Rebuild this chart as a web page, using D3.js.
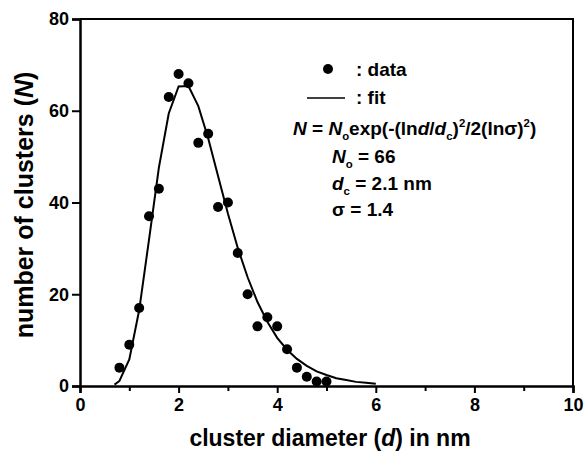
<!DOCTYPE html>
<html lang="en">
<head>
<meta charset="utf-8">
<title>Cluster size distribution</title>
<script src="https://d3js.org/d3.v7.min.js"></script>
<style>
  body { margin: 0; background: #fff; }
  text { font-family: "Liberation Sans", Arial, sans-serif; font-weight: bold; fill: #000; }
</style>
</head>
<body>
<script>
// measured cluster counts
var diam = [0.8, 1.0, 1.2, 1.4, 1.6, 1.8, 2.0, 2.2, 2.4, 2.6, 2.8, 3.0, 3.2, 3.4, 3.6, 3.8, 4.0, 4.2, 4.4, 4.6, 4.8, 5.0];
var count = [4, 9, 17, 37, 43, 63, 68, 66, 53, 55, 39, 40, 29, 20, 13, 15, 13, 8, 4, 2, 1, 1];

// fit curve
var fitD = [0.7, 0.8, 1.0, 1.2, 1.4, 1.6, 1.8, 2.0, 2.2, 2.4, 2.6, 2.8, 3.0, 3.2, 3.4, 3.6, 3.8, 4.0, 4.2, 4.4, 4.6, 4.8, 5.0, 5.2, 5.4, 5.6, 5.8, 6.0];
var fitN = [0.3, 1.1, 5.8, 16.5, 31.9, 47.6, 59.4, 65.3, 65.4, 61.0, 54.0, 45.8, 37.6, 30.1, 23.7, 18.3, 14.0, 10.5, 7.9, 5.9, 4.4, 3.2, 2.4, 1.7, 1.3, 0.9, 0.7, 0.5];

var xTicks = [0, 2, 4, 6, 8, 10];
var xMinor = [1, 3, 5, 7, 9];
var yTicks = [0, 20, 40, 60, 80];

var w = 587, h = 453;
var margin = {top: 19, right: 14, bottom: 67, left: 80};

var svg = d3.select("body").append("svg")
  .attr("width", w)
  .attr("height", h);

var x = d3.scaleLinear().domain([0, 10]).range([margin.left, w - margin.right]);
var y = d3.scaleLinear().domain([0, 80]).range([h - margin.bottom, margin.top]);

// frame (top + right)
svg.append("path")
  .attr("d", "M" + x(0) + "," + y(80) + "H" + x(10) + "V" + y(0))
  .attr("fill", "none")
  .attr("stroke", "#000")
  .attr("stroke-width", 2);

// x axis
svg.append("g")
  .attr("transform", "translate(0," + y(0) + ")")
  .call(d3.axisBottom(x).tickValues(xTicks).tickSize(7).tickPadding(5).tickFormat(d3.format("d")));
svg.append("g")
  .attr("transform", "translate(0," + y(0) + ")")
  .call(d3.axisBottom(x).tickValues(xMinor).tickSize(5).tickFormat(""))
  .call(function(g) { g.select(".domain").remove(); });

// y axis
svg.append("g")
  .attr("transform", "translate(" + x(0) + ",0)")
  .call(d3.axisLeft(y).tickValues(yTicks).tickSize(8).tickPadding(3));

svg.selectAll(".domain").attr("stroke-width", 2.5);
svg.selectAll(".tick line").attr("stroke-width", 2);
svg.selectAll(".tick text")
  .style("font-size", "18px")
  .style("font-weight", "bold")
  .style("font-family", "Liberation Sans, Arial, sans-serif");

// fit line
var line = d3.line()
  .x(function(d) { return x(d); })
  .y(function(d, i) { return y(fitN[i]); });

svg.append("path")
  .datum(fitD)
  .attr("d", line)
  .attr("fill", "none")
  .attr("stroke", "#000")
  .attr("stroke-width", 2);

// data points
svg.selectAll("circle.pt")
  .data(diam)
  .enter()
  .append("circle")
  .attr("class", "pt")
  .attr("cx", function(d) { return x(d); })
  .attr("cy", function(d, i) { return y(count[i]); })
  .attr("r", 5)
  .attr("fill", "#000");

// axis titles
var xt = svg.append("text")
  .attr("x", 330)
  .attr("y", 446)
  .attr("text-anchor", "middle")
  .style("font-size", "23px");
xt.append("tspan").text("cluster diameter (");
xt.append("tspan").style("font-style", "italic").text("d");
xt.append("tspan").text(") in nm");

var yt = svg.append("text")
  .attr("transform", "translate(33,205) rotate(-90)")
  .attr("text-anchor", "middle")
  .style("font-size", "25px");
yt.append("tspan").text("number of clusters (");
yt.append("tspan").style("font-style", "italic").text("N");
yt.append("tspan").text(")");

// legend
var leg = svg.append("g").style("font-size", "19px");
leg.append("circle").attr("cx", 328).attr("cy", 69).attr("r", 5).attr("fill", "#000");
leg.append("text").attr("x", 356).attr("y", 76).text(": data");
leg.append("line").attr("x1", 307).attr("x2", 345).attr("y1", 98).attr("y2", 98)
  .attr("stroke", "#000").attr("stroke-width", 1.5);
leg.append("text").attr("x", 356).attr("y", 104).text(": fit");

function rich(g, xx, yy, parts, size) {
  var t = g.append("text").attr("x", xx).attr("y", yy).style("font-size", size + "px");
  parts.forEach(function(p) {
    var s = t.append("tspan").text(p.t);
    if (p.i) s.style("font-style", "italic");
    if (p.sub) s.attr("dy", 5).style("font-size", (size * 0.6) + "px");
    if (p.sup) s.attr("dy", -8).style("font-size", (size * 0.6) + "px");
    if (p.back) s.attr("dy", p.back);
  });
  return t;
}

rich(leg, 293, 135, [
  {t: "N", i: true}, {t: " = "}, {t: "N", i: true}, {t: "o", sub: true},
  {t: "exp(-(ln", back: -5}, {t: "d", i: true}, {t: "/"}, {t: "d", i: true}, {t: "c", sub: true},
  {t: ")", back: -5}, {t: "2", sup: true}, {t: "/2(lnσ)", back: 8}, {t: "2", sup: true}, {t: ")", back: 8}
], 19);

rich(leg, 332, 163, [{t: "N", i: true}, {t: "o", sub: true}, {t: " = 66", back: -5}], 19);
rich(leg, 332, 190, [{t: "d", i: true}, {t: "c", sub: true}, {t: " = 2.1 nm", back: -5}], 19);
rich(leg, 332, 216, [{t: "σ = 1.4"}], 19);
</script>
</body>
</html>
